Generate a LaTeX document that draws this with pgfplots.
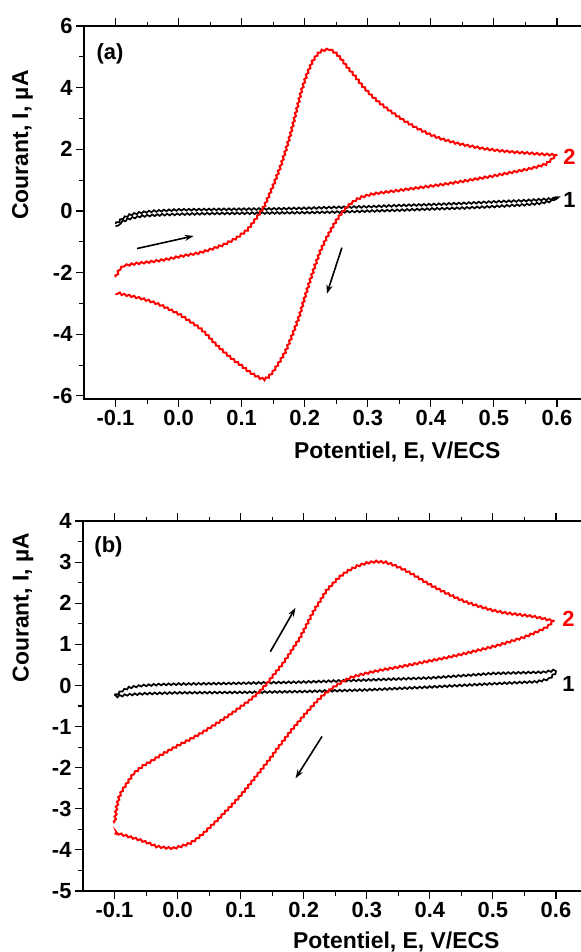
\documentclass[border=0pt]{standalone}
\usepackage{fontspec}
\setmainfont{Liberation Sans}
\usepackage{pgfplots}
\pgfplotsset{compat=1.18}
\usetikzlibrary{arrows.meta,decorations.pathmorphing}

\tikzset{
  wavy/.style={decorate, decoration={snake, amplitude=0.9bp, segment length=5bp}},
  redcv/.style={color=red, line width=2bp, wavy},
  blackcv/.style={color=black, line width=1.7bp, wavy},
  arr/.style={-{Stealth[length=9bp,width=6bp]}, line width=1.6bp},
}

\pgfplotsset{
  cvstyle/.style={
    scale only axis,
    width=504.5bp,
    xmin=-0.15, xmax=0.65,
    xtick={-0.1,0,0.1,0.2,0.3,0.4,0.5,0.6},
    minor x tick num=1, minor y tick num=1,
    tick align=outside,
    xtick pos=both, ytick pos=left,
    major tick length=8bp, minor tick length=4.5bp,
    axis line style={line width=1.3bp},
    every tick/.style={black, line width=1.1bp},
    /pgf/number format/assume math mode=true,
    x tick label style={/pgf/number format/.cd, fixed, fixed zerofill, precision=1},
    ticklabel style={font=\bfseries\fontsize{22}{22}\selectfont, text=black},
    label style={font=\bfseries\fontsize{23}{23}\selectfont},
    xlabel={Potentiel, E, V/ECS},
    ylabel={Courant, I, µA},
    clip=false,
  },
}

\begin{document}
\begin{tikzpicture}
\path[use as bounding box] (0bp,0bp) rectangle (581bp,-952bp);

% ---------------- Panel (a) ----------------
\begin{axis}[cvstyle,
  at={(84bp,-399bp)}, anchor=south west,
  height=373bp,
  ymin=-6.1, ymax=6,
  ytick={-6,-4,-2,0,2,4,6},
  xlabel style={at={(axis description cs:0.621,-0.159)}, anchor=base},
  ylabel style={at={(axis description cs:-0.122,0.681)}, anchor=center},
]
\addplot[blackcv] coordinates {
(-0.1,-0.42) (-0.09,-0.26) (-0.08,-0.16) (-0.065,-0.09) (-0.045,-0.04) (-0.02,-0.01)
(0.0,0.01) (0.05,0.02) (0.1,0.03) (0.15,0.04) (0.2,0.06) (0.25,0.09) (0.3,0.11)
(0.35,0.15) (0.4,0.18) (0.45,0.22) (0.5,0.27) (0.55,0.31) (0.58,0.35) (0.6,0.39)
(0.59,0.24) (0.57,0.16) (0.55,0.12) (0.5,0.06) (0.45,0.01) (0.4,-0.02) (0.35,-0.06)
(0.3,-0.09) (0.25,-0.12) (0.2,-0.14) (0.15,-0.15) (0.1,-0.16) (0.05,-0.17) (0.0,-0.19)
(-0.03,-0.21) (-0.06,-0.25) (-0.08,-0.33) (-0.1,-0.50)
};
\addplot[redcv] coordinates {
(-0.1,-2.15) (-0.095,-1.95) (-0.087,-1.82) (-0.07,-1.76) (-0.045,-1.70) (-0.02,-1.62)
(0.003,-1.52) (0.03,-1.42) (0.05,-1.30) (0.07,-1.15) (0.087,-0.97) (0.1,-0.78)
(0.108,-0.65) (0.116,-0.45) (0.124,-0.22) (0.135,0.12) (0.143,0.50) (0.151,0.89)
(0.161,1.43) (0.17,2.0) (0.177,2.5) (0.185,3.15) (0.193,3.8) (0.2,4.25) (0.2035,4.45)
(0.212,4.85) (0.219,5.05) (0.228,5.18) (0.238,5.22) (0.247,5.10) (0.256,4.90)
(0.266,4.62) (0.277,4.36) (0.29,4.02) (0.304,3.71) (0.32,3.42) (0.336,3.17)
(0.355,2.90) (0.373,2.68) (0.395,2.46) (0.415,2.30) (0.437,2.17) (0.457,2.08)
(0.48,1.99) (0.505,1.92) (0.53,1.87) (0.552,1.84) (0.575,1.80) (0.595,1.78) (0.6,1.75)
(0.592,1.58) (0.584,1.45) (0.568,1.35) (0.552,1.27) (0.525,1.16) (0.5,1.06)
(0.475,0.97) (0.45,0.88) (0.425,0.80) (0.4,0.73) (0.375,0.66) (0.346,0.58)
(0.32,0.51) (0.305,0.46) (0.293,0.39) (0.284,0.30) (0.275,0.18) (0.267,0.03)
(0.259,-0.17) (0.251,-0.40) (0.243,-0.68) (0.234,-1.02) (0.225,-1.42) (0.217,-1.87)
(0.209,-2.36) (0.2,-2.95) (0.193,-3.45) (0.185,-3.90) (0.177,-4.31) (0.169,-4.70)
(0.161,-4.98) (0.151,-5.30) (0.143,-5.48) (0.137,-5.55) (0.128,-5.50) (0.119,-5.40)
(0.108,-5.25) (0.098,-5.08) (0.087,-4.92) (0.077,-4.75) (0.066,-4.55) (0.055,-4.33)
(0.045,-4.10) (0.034,-3.88) (0.02,-3.68) (0.003,-3.45) (-0.013,-3.28) (-0.029,-3.12)
(-0.045,-3.00) (-0.061,-2.90) (-0.075,-2.83) (-0.09,-2.77) (-0.1,-2.69)
};
\draw[arr] (axis cs:-0.066,-1.22) -- (axis cs:0.024,-0.81);
\draw[arr] (axis cs:0.259,-1.19) -- (axis cs:0.235,-2.69);
\node[font=\bfseries\fontsize{22}{22}\selectfont] at (rel axis cs:0.0515,0.925) {(a)};
\node[font=\bfseries\fontsize{22}{22}\selectfont, text=red] at (axis cs:0.62,1.76) {2};
\node[font=\bfseries\fontsize{22}{22}\selectfont] at (axis cs:0.62,0.35) {1};
\end{axis}

% ---------------- Panel (b) ----------------
\begin{axis}[cvstyle,
  at={(83bp,-891bp)}, anchor=south west,
  height=370bp,
  ymin=-5, ymax=4,
  ytick={-5,-4,-3,-2,-1,0,1,2,3,4},
  xlabel style={at={(axis description cs:0.621,-0.155)}, anchor=base},
  ylabel style={at={(axis description cs:-0.119,0.766)}, anchor=center},
]
\addplot[blackcv] coordinates {
(-0.1,-0.25) (-0.09,-0.15) (-0.08,-0.08) (-0.06,-0.03) (-0.03,0.0) (0.0,0.01)
(0.1,0.03) (0.2,0.06) (0.3,0.11) (0.4,0.16) (0.5,0.27) (0.55,0.29) (0.58,0.30) (0.6,0.35)
(0.59,0.20) (0.57,0.13) (0.5,0.08) (0.4,0.0) (0.3,-0.07) (0.2,-0.11) (0.1,-0.13)
(0.0,-0.14) (-0.05,-0.16) (-0.08,-0.19) (-0.1,-0.24)
};
\addplot[redcv] coordinates {
(-0.1,-3.35) (-0.097,-3.0) (-0.093,-2.75) (-0.088,-2.58) (-0.08,-2.40) (-0.07,-2.17)
(-0.054,-1.97) (-0.04,-1.85) (-0.028,-1.73) (-0.014,-1.61) (-0.001,-1.50) (0.018,-1.35)
(0.036,-1.20) (0.057,-1.00) (0.078,-0.79) (0.097,-0.58) (0.115,-0.38) (0.13,-0.18)
(0.142,0.02) (0.155,0.28) (0.168,0.52) (0.18,0.80) (0.194,1.12) (0.205,1.45)
(0.216,1.78) (0.227,2.05) (0.237,2.30) (0.248,2.48) (0.258,2.63) (0.27,2.76)
(0.284,2.87) (0.3,2.95) (0.316,2.99) (0.33,2.97) (0.342,2.91) (0.358,2.80)
(0.374,2.67) (0.39,2.52) (0.406,2.38) (0.425,2.23) (0.443,2.10) (0.46,1.99)
(0.48,1.89) (0.5,1.80) (0.522,1.73) (0.543,1.69) (0.564,1.65) (0.58,1.60)
(0.594,1.55) (0.6,1.52)
(0.593,1.40) (0.586,1.33) (0.57,1.22) (0.554,1.12) (0.533,1.02) (0.512,0.92)
(0.486,0.82) (0.459,0.72) (0.433,0.63) (0.406,0.55) (0.38,0.47) (0.353,0.39)
(0.33,0.33) (0.311,0.27) (0.295,0.21) (0.279,0.14) (0.268,0.06) (0.258,-0.03)
(0.248,-0.13) (0.237,-0.26) (0.226,-0.42) (0.216,-0.59) (0.205,-0.78) (0.194,-0.98)
(0.183,-1.18) (0.173,-1.38) (0.163,-1.58) (0.153,-1.79) (0.142,-2.01) (0.128,-2.28)
(0.115,-2.53) (0.102,-2.77) (0.089,-2.99) (0.078,-3.16) (0.068,-3.32) (0.057,-3.48)
(0.047,-3.63) (0.036,-3.77) (0.025,-3.88) (0.012,-3.95) (-0.001,-4.00) (-0.014,-3.99)
(-0.028,-3.96) (-0.04,-3.88) (-0.054,-3.80) (-0.067,-3.74) (-0.08,-3.68) (-0.09,-3.64)
(-0.1,-3.60)
};
\draw[arr] (axis cs:0.147,0.82) -- (axis cs:0.187,1.89);
\draw[arr] (axis cs:0.229,-1.24) -- (axis cs:0.187,-2.26);
\node[font=\bfseries\fontsize{22}{22}\selectfont] at (rel axis cs:0.0505,0.931) {(b)};
\node[font=\bfseries\fontsize{22}{22}\selectfont, text=red] at (axis cs:0.62,1.63) {2};
\node[font=\bfseries\fontsize{22}{22}\selectfont] at (axis cs:0.62,0.04) {1};
\end{axis}
\end{tikzpicture}
\end{document}
